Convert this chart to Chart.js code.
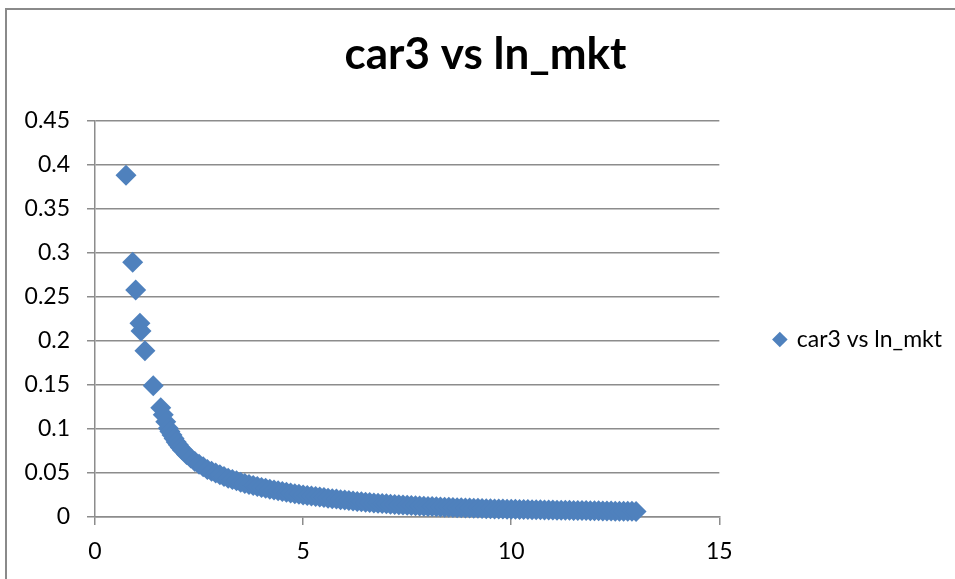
<!DOCTYPE html>
<html>
<head>
<meta charset="utf-8">
<script src="https://cdn.jsdelivr.net/npm/chart.js@4/dist/chart.umd.min.js"></script>
<style>
  html, body { margin: 0; padding: 0; background: #fff; }
  canvas { display: block; }
</style>
</head>
<body>
<canvas id="c" width="955" height="579"></canvas>
<script>
// values: ln_mkt (x) and car3 (y)
const lnMkt = [0.745, 0.905, 0.978, 1.08, 1.105, 1.2, 1.4, 1.58, 1.64, 1.7, 1.76,
  1.8, 1.85, 1.9, 1.95, 2.0, 2.05, 2.1, 2.2, 2.3, 2.4, 2.5, 2.6, 2.7, 2.8, 2.9,
  3.0, 3.1, 3.2, 3.3, 3.4, 3.5, 3.6, 3.7, 3.8, 3.9,
  4.0, 4.1, 4.2, 4.3, 4.4, 4.5, 4.6, 4.7, 4.8, 4.9,
  5.0, 5.1, 5.2, 5.3, 5.4, 5.5, 5.6, 5.7, 5.8, 5.9,
  6.0, 6.1, 6.2, 6.3, 6.4, 6.5, 6.6, 6.7, 6.8, 6.9,
  7.0, 7.1, 7.2, 7.3, 7.4, 7.5, 7.6, 7.7, 7.8, 7.9,
  8.0, 8.1, 8.2, 8.3, 8.4, 8.5, 8.6, 8.7, 8.8, 8.9,
  9.0, 9.1, 9.2, 9.3, 9.4, 9.5, 9.6, 9.7, 9.8, 9.9,
  10.0, 10.1, 10.2, 10.3, 10.4, 10.5, 10.6, 10.7, 10.8, 10.9,
  11.0, 11.1, 11.2, 11.3, 11.4, 11.5, 11.6, 11.7, 11.8, 11.9,
  12.0, 12.1, 12.2, 12.3, 12.4, 12.5, 12.6, 12.7, 12.8, 12.9, 13.0];
const car3 = [0.388, 0.289, 0.2576, 0.22, 0.211, 0.1886, 0.149, 0.124, 0.116, 0.108, 0.1008,
  0.097, 0.093, 0.089, 0.085, 0.082, 0.079, 0.076, 0.071, 0.067, 0.063, 0.06, 0.057, 0.054, 0.052, 0.05,
  0.048, 0.046, 0.044, 0.0425, 0.041, 0.0395, 0.038, 0.037, 0.0357, 0.0345,
  0.0335, 0.0325, 0.0315, 0.0306, 0.0297, 0.0288, 0.028, 0.0272, 0.0265, 0.0257,
  0.025, 0.0244, 0.0238, 0.0232, 0.0226, 0.022, 0.0214, 0.0208, 0.0203, 0.0197,
  0.0192, 0.0187, 0.0182, 0.0177, 0.0173, 0.0168, 0.0164, 0.016, 0.0156, 0.0152,
  0.0149, 0.0145, 0.0142, 0.0139, 0.0136, 0.0133, 0.013, 0.0127, 0.0125, 0.0122,
  0.012, 0.0118, 0.0116, 0.0114, 0.0112, 0.011, 0.0108, 0.0106, 0.0104, 0.0102,
  0.0101, 0.0099, 0.0098, 0.0096, 0.0095, 0.0093, 0.0092, 0.0091, 0.009, 0.0089,
  0.0088, 0.0087, 0.0086, 0.0085, 0.0084, 0.0083, 0.0082, 0.0081, 0.008, 0.008,
  0.0079, 0.0078, 0.0077, 0.0077, 0.0076, 0.0075, 0.0075, 0.0074, 0.0074, 0.0072,
  0.0071, 0.007, 0.0069, 0.0068, 0.0067, 0.0066, 0.0066, 0.0065, 0.0064, 0.0064, 0.0063];
const yTickLabels = ['0', '0.05', '0.1', '0.15', '0.2', '0.25', '0.3', '0.35', '0.4', '0.45'];
const xTickLabels = ['0', '5', '10', '15'];
const seriesName = 'car3 vs ln_mkt';

const gridGray = '#8c8c8c';
const tickFont = { family: 'Lato', size: 23 };

// white background + outer frame like the spreadsheet chart box
const frame = {
  id: 'frame',
  beforeDraw: chart => {
    const ctx = chart.ctx;
    ctx.save();
    ctx.fillStyle = '#fff';
    ctx.fillRect(0, 0, chart.width, chart.height);
    ctx.strokeStyle = '#8a8a8a';
    ctx.lineWidth = 2;
    ctx.strokeRect(6, 9, chart.width + 20, chart.height + 20);
    ctx.restore();
  }
};

new Chart(document.getElementById('c'), {
  type: 'scatter',
  data: {
    datasets: [{
      label: seriesName,
      data: lnMkt.map((x, i) => ({ x: x, y: car3[i] })),
      pointStyle: 'rectRot',
      pointRadius: 10.5,
      pointBorderWidth: 0,
      backgroundColor: '#4F81BD',
      borderColor: '#4F81BD',
      clip: false
    }]
  },
  options: {
    responsive: false,
    animation: false,
    devicePixelRatio: 1,
    layout: { padding: { left: 19, right: 3, top: 0, bottom: 0 } },
    plugins: {
      tooltip: { enabled: false },
      title: {
        display: true,
        text: seriesName,
        color: '#000',
        font: { family: 'Lato', size: 44, weight: 'bold', lineHeight: 1.2 },
        padding: { top: 28.4, bottom: 39.3 }
      },
      legend: {
        position: 'right',
        title: { display: true, text: '', padding: { top: 90, bottom: 0 }, font: { size: 10, lineHeight: 1 } },
        labels: {
          usePointStyle: true,
          pointStyle: 'rectRot',
          boxWidth: 11,
          boxHeight: 11,
          padding: 55,
          color: '#000',
          font: tickFont
        }
      }
    },
    scales: {
      x: {
        type: 'linear',
        min: 0,
        max: 15,
        afterFit: s => { s.height = 62; },
        ticks: {
          stepSize: 5,
          color: '#000',
          font: tickFont,
          padding: 13,
          callback: (v, i) => xTickLabels[i]
        },
        grid: { drawOnChartArea: false, drawTicks: true, tickLength: 8, color: gridGray, lineWidth: 1.5 },
        border: { color: gridGray, width: 1.5 }
      },
      y: {
        type: 'linear',
        min: 0,
        max: 0.45,
        afterFit: s => { s.width = 76; },
        ticks: {
          stepSize: 0.05,
          color: '#000',
          font: tickFont,
          padding: 17,
          callback: (v, i) => yTickLabels[i]
        },
        grid: { drawTicks: true, tickLength: 8, color: gridGray, lineWidth: 1.5 },
        border: { color: gridGray, width: 1.5 }
      }
    }
  },
  plugins: [frame]
});
</script>
</body>
</html>
